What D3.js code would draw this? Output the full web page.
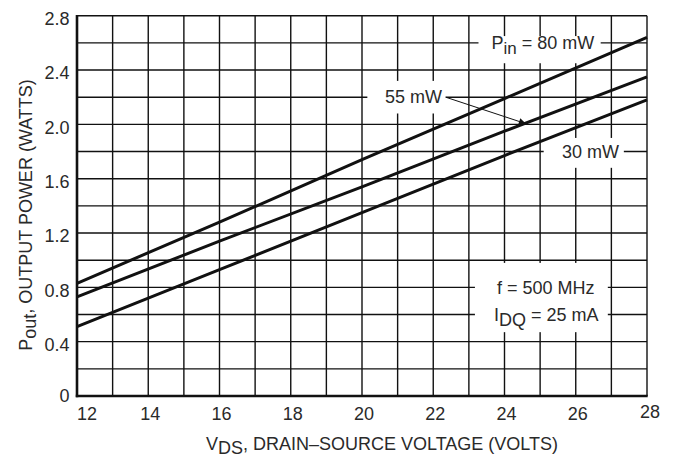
<!DOCTYPE html>
<html>
<head>
<meta charset="utf-8">
<script src="https://cdn.jsdelivr.net/npm/d3@7"></script>
<style>
  html, body { margin: 0; padding: 0; background: #fff; }
  svg { display: block; }
  text { font-family: "Liberation Sans Narrow", "Arial Narrow", "Liberation Sans", Arial, sans-serif; fill: #2a2a2a; }
</style>
</head>
<body>
<svg id="chart" width="674" height="458"></svg>
<script>
// ---- data ----
const vds = [12, 16, 20, 24, 28];
const pout80 = [0.83, 1.28, 1.74, 2.19, 2.64];
const pout55 = [0.73, 1.14, 1.54, 1.95, 2.35];
const pout30 = [0.51, 0.93, 1.35, 1.77, 2.18];
const xTicks = [12, 14, 16, 18, 20, 22, 24, 26, 28];
const yTicks = [0, 0.4, 0.8, 1.2, 1.6, 2.0, 2.4, 2.8];
const yTickLabels = ["0", "0.4", "0.8", "1.2", "1.6", "2.0", "2.4", "2.8"];
const xGrid = d3.range(12, 28.001, 1);
const yGrid = d3.range(0, 2.8001, 0.2);

const series = [
  { name: "80", values: pout80 },
  { name: "55", values: pout55 },
  { name: "30", values: pout30 }
];

// ---- layout ----
const W = 674, H = 458;
const m = { left: 77, top: 15.7, right: 27, bottom: 62 };
const svg = d3.select("#chart");
const x = d3.scaleLinear().domain([12, 28]).range([m.left, W - m.right]);
const y = d3.scaleLinear().domain([0, 2.8]).range([H - m.bottom, m.top]);

// grid
const g = svg.append("g");
g.selectAll("line.vg").data(xGrid).join("line")
  .attr("x1", d => x(d)).attr("x2", d => x(d))
  .attr("y1", y(0)).attr("y2", y(2.8))
  .attr("stroke", "#111").attr("stroke-width", 1.4);
g.selectAll("line.hg").data(yGrid).join("line")
  .attr("y1", d => y(d)).attr("y2", d => y(d))
  .attr("x1", x(12)).attr("x2", x(28))
  .attr("stroke", "#111").attr("stroke-width", 1.4);

// label boxes (white, break the grid)
const boxes = [
  { x0: 23.27, x1: 26.7, y0: 2.65, y1: 2.45 },
  { x0: 20.15, x1: 22.35, y0: 2.32, y1: 2.08 },
  { x0: 25.1, x1: 27.35, y0: 1.90, y1: 1.68 },
  { x0: 23.17, x1: 26.9, y0: 0.98, y1: 0.47 }
];
svg.selectAll("rect.box").data(boxes).join("rect")
  .attr("x", d => x(d.x0)).attr("y", d => y(d.y0))
  .attr("width", d => x(d.x1) - x(d.x0)).attr("height", d => y(d.y1) - y(d.y0))
  .attr("fill", "#fff");

// axes (thick left/bottom)
svg.append("line").attr("x1", x(12)).attr("x2", x(12)).attr("y1", y(0) + 1.2).attr("y2", y(2.8) - 0.7)
  .attr("stroke", "#111").attr("stroke-width", 2.6);
svg.append("line").attr("x1", x(12) - 1.2).attr("x2", x(28) + 0.7).attr("y1", y(0)).attr("y2", y(0))
  .attr("stroke", "#111").attr("stroke-width", 2.6);

// curves
const line = d3.line().x((d, i) => x(vds[i])).y(d => y(d));
svg.selectAll("path.curve").data(series).join("path")
  .attr("d", d => line(d.values))
  .attr("fill", "none").attr("stroke", "#111").attr("stroke-width", 3)
  .attr("stroke-linecap", "butt");

// tick labels
const fs = 18;
svg.selectAll("text.yt").data(yTicks).join("text")
  .attr("x", 69.5).attr("y", (d, i) => y(d) + (d === 0 ? 0 : 3))
  .attr("dy", "0.35em").attr("text-anchor", "end")
  .attr("font-size", fs).text((d, i) => yTickLabels[i]);
svg.selectAll("text.xt").data(xTicks).join("text")
  .attr("x", d => x(d) + (d === 12 ? 10 : (d === 28 ? 3 : 2)))
  .attr("y", d => d === 28 ? 412 : 414)
  .attr("dy", "0.35em").attr("text-anchor", "middle")
  .attr("font-size", fs).text(d => d);

// axis titles
const xt = svg.append("text").attr("x", 382).attr("y", 450).attr("text-anchor", "middle").attr("font-size", fs);
xt.append("tspan").text("V");
xt.append("tspan").attr("dy", 4).text("DS");
xt.append("tspan").attr("dy", -4).text(", DRAIN\u2013SOURCE VOLTAGE (VOLTS)");

const yt = svg.append("text").attr("transform", "translate(31.5,215) rotate(-90)")
  .attr("text-anchor", "middle").attr("font-size", fs);
yt.append("tspan").text("P");
yt.append("tspan").attr("dy", 4).text("out");
yt.append("tspan").attr("dy", -4).text(", OUTPUT POWER (WATTS)");

// annotations
const a1 = svg.append("text").attr("x", 491.5).attr("y", y(2.6)).attr("dy", "0.35em").attr("font-size", fs);
a1.append("tspan").text("P");
a1.append("tspan").attr("dy", 5).attr("font-size", 17).text("in");
a1.append("tspan").attr("dy", -5).text(" = 80 mW");

svg.append("text").attr("x", 385).attr("y", y(2.2)).attr("dy", "0.35em").attr("font-size", fs).text("55 mW");
svg.append("text").attr("x", 562).attr("y", y(1.8)).attr("dy", "0.35em").attr("font-size", fs).text("30 mW");

svg.append("text").attr("x", 497).attr("y", y(0.8)).attr("dy", "0.35em").attr("font-size", fs).text("f = 500 MHz");
const a4 = svg.append("text").attr("x", 494).attr("y", y(0.6)).attr("dy", "0.35em").attr("font-size", fs);
a4.append("tspan").text("I");
a4.append("tspan").attr("dy", 5).text("DQ");
a4.append("tspan").attr("dy", -5).text(" = 25 mA");

// arrow from "55 mW" to the 55 mW curve
svg.append("defs").append("marker").attr("id", "ah")
  .attr("viewBox", "0 0 10 10").attr("refX", 10).attr("refY", 5)
  .attr("markerWidth", 14).attr("markerHeight", 7).attr("markerUnits", "userSpaceOnUse")
  .attr("orient", "auto")
  .append("path").attr("d", "M0,0 L10,5 L0,10 z").attr("fill", "#111");
svg.append("line")
  .attr("x1", x(22.35)).attr("y1", y(2.2))
  .attr("x2", x(24.6)).attr("y2", y(2.005))
  .attr("stroke", "#111").attr("stroke-width", 1)
  .attr("marker-end", "url(#ah)");
</script>
</body>
</html>
